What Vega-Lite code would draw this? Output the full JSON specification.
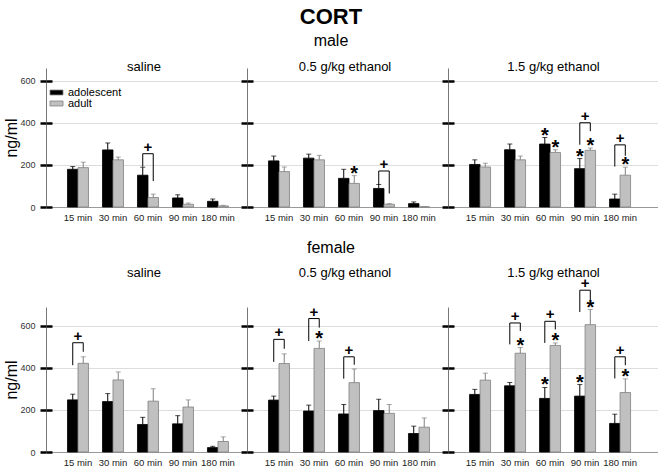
{
"$schema":"https://vega.github.io/schema/vega-lite/v6.json",
"padding":{"left":3,"top":6,"right":0,"bottom":0},
"title":{"text":"CORT","fontSize":22,"fontWeight":"bold","anchor":"middle","offset":4},
"datasets":{
"bars":[
{"sex":"male","trt":"saline","time":"15 min","age":"adolescent","mean":179,"hi":192,"sig":0},
{"sex":"male","trt":"saline","time":"15 min","age":"adult","mean":187,"hi":213,"sig":0},
{"sex":"male","trt":"saline","time":"30 min","age":"adolescent","mean":271,"hi":304,"sig":0},
{"sex":"male","trt":"saline","time":"30 min","age":"adult","mean":224,"hi":237,"sig":0},
{"sex":"male","trt":"saline","time":"60 min","age":"adolescent","mean":151,"hi":189,"sig":0},
{"sex":"male","trt":"saline","time":"60 min","age":"adult","mean":45,"hi":61,"sig":0},
{"sex":"male","trt":"saline","time":"90 min","age":"adolescent","mean":43,"hi":58,"sig":0},
{"sex":"male","trt":"saline","time":"90 min","age":"adult","mean":13,"hi":19,"sig":0},
{"sex":"male","trt":"saline","time":"180 min","age":"adolescent","mean":27,"hi":38,"sig":0},
{"sex":"male","trt":"saline","time":"180 min","age":"adult","mean":5,"hi":8,"sig":0},
{"sex":"male","trt":"0.5","time":"15 min","age":"adolescent","mean":219,"hi":242,"sig":0},
{"sex":"male","trt":"0.5","time":"15 min","age":"adult","mean":168,"hi":190,"sig":0},
{"sex":"male","trt":"0.5","time":"30 min","age":"adolescent","mean":232,"hi":251,"sig":0},
{"sex":"male","trt":"0.5","time":"30 min","age":"adult","mean":224,"hi":245,"sig":0},
{"sex":"male","trt":"0.5","time":"60 min","age":"adolescent","mean":136,"hi":179,"sig":0},
{"sex":"male","trt":"0.5","time":"60 min","age":"adult","mean":112,"hi":149,"sig":1},
{"sex":"male","trt":"0.5","time":"90 min","age":"adolescent","mean":88,"hi":107,"sig":0},
{"sex":"male","trt":"0.5","time":"90 min","age":"adult","mean":13,"hi":16,"sig":0},
{"sex":"male","trt":"0.5","time":"180 min","age":"adolescent","mean":16,"hi":24,"sig":0},
{"sex":"male","trt":"0.5","time":"180 min","age":"adult","mean":1,"hi":1,"sig":0},
{"sex":"male","trt":"1.5","time":"15 min","age":"adolescent","mean":202,"hi":224,"sig":0},
{"sex":"male","trt":"1.5","time":"15 min","age":"adult","mean":190,"hi":208,"sig":0},
{"sex":"male","trt":"1.5","time":"30 min","age":"adolescent","mean":272,"hi":299,"sig":0},
{"sex":"male","trt":"1.5","time":"30 min","age":"adult","mean":224,"hi":242,"sig":0},
{"sex":"male","trt":"1.5","time":"60 min","age":"adolescent","mean":299,"hi":330,"sig":1},
{"sex":"male","trt":"1.5","time":"60 min","age":"adult","mean":259,"hi":272,"sig":1},
{"sex":"male","trt":"1.5","time":"90 min","age":"adolescent","mean":182,"hi":230,"sig":1},
{"sex":"male","trt":"1.5","time":"90 min","age":"adult","mean":269,"hi":280,"sig":1},
{"sex":"male","trt":"1.5","time":"180 min","age":"adolescent","mean":38,"hi":61,"sig":0},
{"sex":"male","trt":"1.5","time":"180 min","age":"adult","mean":151,"hi":189,"sig":1},
{"sex":"female","trt":"saline","time":"15 min","age":"adolescent","mean":248,"hi":275,"sig":0},
{"sex":"female","trt":"saline","time":"15 min","age":"adult","mean":422,"hi":453,"sig":0},
{"sex":"female","trt":"saline","time":"30 min","age":"adolescent","mean":240,"hi":278,"sig":0},
{"sex":"female","trt":"saline","time":"30 min","age":"adult","mean":343,"hi":381,"sig":0},
{"sex":"female","trt":"saline","time":"60 min","age":"adolescent","mean":131,"hi":165,"sig":0},
{"sex":"female","trt":"saline","time":"60 min","age":"adult","mean":242,"hi":301,"sig":0},
{"sex":"female","trt":"saline","time":"90 min","age":"adolescent","mean":134,"hi":173,"sig":0},
{"sex":"female","trt":"saline","time":"90 min","age":"adult","mean":214,"hi":248,"sig":0},
{"sex":"female","trt":"saline","time":"180 min","age":"adolescent","mean":21,"hi":27,"sig":0},
{"sex":"female","trt":"saline","time":"180 min","age":"adult","mean":50,"hi":72,"sig":0},
{"sex":"female","trt":"0.5","time":"15 min","age":"adolescent","mean":247,"hi":266,"sig":0},
{"sex":"female","trt":"0.5","time":"15 min","age":"adult","mean":421,"hi":467,"sig":0},
{"sex":"female","trt":"0.5","time":"30 min","age":"adolescent","mean":195,"hi":223,"sig":0},
{"sex":"female","trt":"0.5","time":"30 min","age":"adult","mean":493,"hi":528,"sig":1},
{"sex":"female","trt":"0.5","time":"60 min","age":"adolescent","mean":181,"hi":226,"sig":0},
{"sex":"female","trt":"0.5","time":"60 min","age":"adult","mean":330,"hi":395,"sig":0},
{"sex":"female","trt":"0.5","time":"90 min","age":"adolescent","mean":197,"hi":251,"sig":0},
{"sex":"female","trt":"0.5","time":"90 min","age":"adult","mean":184,"hi":226,"sig":0},
{"sex":"female","trt":"0.5","time":"180 min","age":"adolescent","mean":88,"hi":123,"sig":0},
{"sex":"female","trt":"0.5","time":"180 min","age":"adult","mean":118,"hi":162,"sig":0},
{"sex":"female","trt":"1.5","time":"15 min","age":"adolescent","mean":274,"hi":298,"sig":0},
{"sex":"female","trt":"1.5","time":"15 min","age":"adult","mean":342,"hi":375,"sig":0},
{"sex":"female","trt":"1.5","time":"30 min","age":"adolescent","mean":315,"hi":331,"sig":0},
{"sex":"female","trt":"1.5","time":"30 min","age":"adult","mean":470,"hi":497,"sig":1},
{"sex":"female","trt":"1.5","time":"60 min","age":"adolescent","mean":255,"hi":307,"sig":1},
{"sex":"female","trt":"1.5","time":"60 min","age":"adult","mean":507,"hi":519,"sig":1},
{"sex":"female","trt":"1.5","time":"90 min","age":"adolescent","mean":266,"hi":321,"sig":1},
{"sex":"female","trt":"1.5","time":"90 min","age":"adult","mean":606,"hi":678,"sig":1},
{"sex":"female","trt":"1.5","time":"180 min","age":"adolescent","mean":136,"hi":180,"sig":0},
{"sex":"female","trt":"1.5","time":"180 min","age":"adult","mean":283,"hi":348,"sig":1}
],
"brackets":[
{"sex":"male","trt":"saline","time":"60 min","bid":"a","age":"adolescent","v":192,"ord":1},
{"sex":"male","trt":"saline","time":"60 min","bid":"a","age":"adolescent","v":253,"ord":2},
{"sex":"male","trt":"saline","time":"60 min","bid":"a","age":"adult","v":253,"ord":3},
{"sex":"male","trt":"saline","time":"60 min","bid":"a","age":"adult","v":123,"ord":4},
{"sex":"male","trt":"0.5","time":"90 min","bid":"b","age":"adolescent","v":105,"ord":1},
{"sex":"male","trt":"0.5","time":"90 min","bid":"b","age":"adolescent","v":171,"ord":2},
{"sex":"male","trt":"0.5","time":"90 min","bid":"b","age":"adult","v":171,"ord":3},
{"sex":"male","trt":"0.5","time":"90 min","bid":"b","age":"adult","v":64,"ord":4},
{"sex":"male","trt":"1.5","time":"90 min","bid":"c","age":"adolescent","v":296,"ord":1},
{"sex":"male","trt":"1.5","time":"90 min","bid":"c","age":"adolescent","v":400,"ord":2},
{"sex":"male","trt":"1.5","time":"90 min","bid":"c","age":"adult","v":400,"ord":3},
{"sex":"male","trt":"1.5","time":"90 min","bid":"c","age":"adult","v":360,"ord":4},
{"sex":"male","trt":"1.5","time":"180 min","bid":"d","age":"adolescent","v":192,"ord":1},
{"sex":"male","trt":"1.5","time":"180 min","bid":"d","age":"adolescent","v":295,"ord":2},
{"sex":"male","trt":"1.5","time":"180 min","bid":"d","age":"adult","v":295,"ord":3},
{"sex":"male","trt":"1.5","time":"180 min","bid":"d","age":"adult","v":243,"ord":4},
{"sex":"female","trt":"saline","time":"15 min","bid":"e","age":"adolescent","v":413,"ord":1},
{"sex":"female","trt":"saline","time":"15 min","bid":"e","age":"adolescent","v":520,"ord":2},
{"sex":"female","trt":"saline","time":"15 min","bid":"e","age":"adult","v":520,"ord":3},
{"sex":"female","trt":"saline","time":"15 min","bid":"e","age":"adult","v":477,"ord":4},
{"sex":"female","trt":"0.5","time":"15 min","bid":"f","age":"adolescent","v":429,"ord":1},
{"sex":"female","trt":"0.5","time":"15 min","bid":"f","age":"adolescent","v":536,"ord":2},
{"sex":"female","trt":"0.5","time":"15 min","bid":"f","age":"adult","v":536,"ord":3},
{"sex":"female","trt":"0.5","time":"15 min","bid":"f","age":"adult","v":491,"ord":4},
{"sex":"female","trt":"0.5","time":"30 min","bid":"g","age":"adolescent","v":528,"ord":1},
{"sex":"female","trt":"0.5","time":"30 min","bid":"g","age":"adolescent","v":635,"ord":2},
{"sex":"female","trt":"0.5","time":"30 min","bid":"g","age":"adult","v":635,"ord":3},
{"sex":"female","trt":"0.5","time":"30 min","bid":"g","age":"adult","v":592,"ord":4},
{"sex":"female","trt":"0.5","time":"60 min","bid":"h","age":"adolescent","v":349,"ord":1},
{"sex":"female","trt":"0.5","time":"60 min","bid":"h","age":"adolescent","v":453,"ord":2},
{"sex":"female","trt":"0.5","time":"60 min","bid":"h","age":"adult","v":453,"ord":3},
{"sex":"female","trt":"0.5","time":"60 min","bid":"h","age":"adult","v":415,"ord":4},
{"sex":"female","trt":"1.5","time":"30 min","bid":"i","age":"adolescent","v":512,"ord":1},
{"sex":"female","trt":"1.5","time":"30 min","bid":"i","age":"adolescent","v":614,"ord":2},
{"sex":"female","trt":"1.5","time":"30 min","bid":"i","age":"adult","v":614,"ord":3},
{"sex":"female","trt":"1.5","time":"30 min","bid":"i","age":"adult","v":576,"ord":4},
{"sex":"female","trt":"1.5","time":"60 min","bid":"j","age":"adolescent","v":519,"ord":1},
{"sex":"female","trt":"1.5","time":"60 min","bid":"j","age":"adolescent","v":622,"ord":2},
{"sex":"female","trt":"1.5","time":"60 min","bid":"j","age":"adult","v":622,"ord":3},
{"sex":"female","trt":"1.5","time":"60 min","bid":"j","age":"adult","v":583,"ord":4},
{"sex":"female","trt":"1.5","time":"90 min","bid":"k","age":"adolescent","v":666,"ord":1},
{"sex":"female","trt":"1.5","time":"90 min","bid":"k","age":"adolescent","v":770,"ord":2},
{"sex":"female","trt":"1.5","time":"90 min","bid":"k","age":"adult","v":770,"ord":3},
{"sex":"female","trt":"1.5","time":"90 min","bid":"k","age":"adult","v":714,"ord":4},
{"sex":"female","trt":"1.5","time":"180 min","bid":"l","age":"adolescent","v":350,"ord":1},
{"sex":"female","trt":"1.5","time":"180 min","bid":"l","age":"adolescent","v":453,"ord":2},
{"sex":"female","trt":"1.5","time":"180 min","bid":"l","age":"adult","v":453,"ord":3},
{"sex":"female","trt":"1.5","time":"180 min","bid":"l","age":"adult","v":413,"ord":4}
]
},
"spacing":18,
"vconcat":[
{"title":{"text":"male","fontSize":16,"anchor":"middle","offset":11},
 "spacing":-2,
 "resolve":{"legend":{"fill":"independent"},"scale":{"xOffset":"independent"}},
 "hconcat":[
  {"width":195,"height":139,
   "data":{"name":"bars"},
   "transform":[{"filter":"datum.sex==='male' && datum.trt==='saline'"}],
   "encoding":{"x":{"field":"time","type":"nominal","scale":{"domain":["15 min","30 min","60 min","90 min","180 min"],"paddingInner":0.4,"paddingOuter":0.486,"align":0.632},"axis":null}},
   "resolve":{"axis":{"y":"independent","x":"independent"}},
   "layer":[
    {"mark":{"type":"bar","strokeWidth":0.8},
     "encoding":{"x":{"field":"time","type":"nominal","scale":{"domain":["15 min","30 min","60 min","90 min","180 min"],"paddingInner":0.4,"paddingOuter":0.486,"align":0.632},"axis":{"title":null,"ticks":false,"labelFontSize":9.5,"labelColor":"#222","labelPadding":5,"domainColor":"#999","labelAngle":0,"grid":false}},
      "xOffset":{"field":"age","type":"nominal","scale":{"domain":["adolescent","adult"],"paddingInner":0,"paddingOuter":0}},
      "y":{"field":"mean","type":"quantitative","scale":{"domain":[0,660],"nice":false},"axis":{"values":[0,200,400,600],"title":"ng/ml","titleFontSize":16,"titleFontWeight":"normal","titleColor":"#000","titlePadding":0,"labelFontSize":9,"labelColor":"#333","labelPadding":5,"tickSize":6,"tickWidth":2.5,"tickColor":"#000","domainColor":"#777","grid":true,"gridColor":"#dddddd"}},
      "fill":{"field":"age","type":"nominal","scale":{"domain":["adolescent","adult"],"range":["#000000","#c0c0c0"]},"legend":{"title":null,"orient":"none","legendX":5,"legendY":19,"labelFontSize":11,"labelColor":"#000","symbolType":"M-1.45,-0.55H1.45V0.55H-1.45Z","symbolSize":81,"rowPadding":-2,"labelOffset":6,"symbolStrokeColor":"#808080","symbolStrokeWidth":0.8}},
      "stroke":{"field":"age","type":"nominal","scale":{"domain":["adolescent","adult"],"range":["#000000","#808080"]},"legend":null}}},
    {"mark":{"type":"rule","strokeWidth":1},
     "encoding":{"xOffset":{"field":"age","type":"nominal"},"y":{"field":"mean","type":"quantitative","axis":{"orient":"left","offset":-6,"values":[0,200,400,600],"domain":false,"labels":false,"grid":false,"title":null,"tickSize":6,"tickWidth":2.5,"tickColor":"#000"}},"y2":{"field":"hi"},"stroke":{"field":"age","type":"nominal","legend":null}}},
    {"mark":{"type":"tick","thickness":1,"size":5},
     "encoding":{"xOffset":{"field":"age","type":"nominal"},"y":{"field":"hi","type":"quantitative","axis":null},"color":{"field":"age","type":"nominal","scale":{"domain":["adolescent","adult"],"range":["#000000","#808080"]},"legend":null}}},
    {"transform":[{"filter":"datum.sig==1"}],"mark":{"type":"text","text":"*","fontSize":20,"fontWeight":"bold","baseline":"alphabetic","dy":4,"color":"#000"},
     "encoding":{"xOffset":{"field":"age","type":"nominal"},"y":{"field":"hi","type":"quantitative","axis":null}}},
    {"data":{"name":"brackets"},"transform":[{"filter":"datum.sex==='male' && datum.trt==='saline'"}],"mark":{"type":"line","color":"#000","strokeWidth":1},
     "encoding":{"xOffset":{"field":"age","type":"nominal"},"y":{"field":"v","type":"quantitative","axis":null},"detail":{"field":"bid"},"order":{"field":"ord","type":"quantitative"}}},
    {"data":{"name":"brackets"},"transform":[{"filter":"datum.sex==='male' && datum.trt==='saline' && datum.ord==2"}],"mark":{"type":"text","text":"+","fontSize":15,"fontWeight":"bold","baseline":"alphabetic","dy":-2,"color":"#000"},
     "encoding":{"x":{"field":"time","type":"nominal","scale":{"domain":["15 min","30 min","60 min","90 min","180 min"],"paddingInner":0.4,"paddingOuter":0.486,"align":0.632},"axis":{"orient":"top","title":"saline","titleFontSize":13,"titleFontWeight":"normal","titleColor":"#000","titlePadding":-5,"domain":false,"ticks":false,"labels":false,"grid":false}},
      "y":{"field":"v","type":"quantitative","axis":null}}}
   ]},
  {"width":195,"height":139,
   "data":{"name":"bars"},
   "transform":[{"filter":"datum.sex==='male' && datum.trt==='0.5'"}],
   "encoding":{"x":{"field":"time","type":"nominal","scale":{"domain":["15 min","30 min","60 min","90 min","180 min"],"paddingInner":0.4,"paddingOuter":0.486,"align":0.632},"axis":null}},
   "resolve":{"axis":{"y":"independent","x":"independent"}},
   "layer":[
    {"mark":{"type":"bar","strokeWidth":0.8},
     "encoding":{"x":{"field":"time","type":"nominal","scale":{"domain":["15 min","30 min","60 min","90 min","180 min"],"paddingInner":0.4,"paddingOuter":0.486,"align":0.632},"axis":{"title":null,"ticks":false,"labelFontSize":9.5,"labelColor":"#222","labelPadding":5,"domainColor":"#999","labelAngle":0,"grid":false}},
      "xOffset":{"field":"age","type":"nominal","scale":{"domain":["adolescent","adult"],"paddingInner":0,"paddingOuter":0}},
      "y":{"field":"mean","type":"quantitative","scale":{"domain":[0,660],"nice":false},"axis":{"values":[0,200,400,600],"title":null,"labels":false,"tickSize":6,"tickWidth":2.5,"tickColor":"#000","domainColor":"#777","grid":true,"gridColor":"#dddddd"}},
      "fill":{"field":"age","type":"nominal","scale":{"domain":["adolescent","adult"],"range":["#000000","#c0c0c0"]},"legend":null},
      "stroke":{"field":"age","type":"nominal","scale":{"domain":["adolescent","adult"],"range":["#000000","#808080"]},"legend":null}}},
    {"mark":{"type":"rule","strokeWidth":1},
     "encoding":{"xOffset":{"field":"age","type":"nominal"},"y":{"field":"mean","type":"quantitative","axis":{"orient":"left","offset":-6,"values":[0,200,400,600],"domain":false,"labels":false,"grid":false,"title":null,"tickSize":6,"tickWidth":2.5,"tickColor":"#000"}},"y2":{"field":"hi"},"stroke":{"field":"age","type":"nominal","legend":null}}},
    {"mark":{"type":"tick","thickness":1,"size":5},
     "encoding":{"xOffset":{"field":"age","type":"nominal"},"y":{"field":"hi","type":"quantitative","axis":null},"color":{"field":"age","type":"nominal","scale":{"domain":["adolescent","adult"],"range":["#000000","#808080"]},"legend":null}}},
    {"transform":[{"filter":"datum.sig==1"}],"mark":{"type":"text","text":"*","fontSize":20,"fontWeight":"bold","baseline":"alphabetic","dy":4,"color":"#000"},
     "encoding":{"xOffset":{"field":"age","type":"nominal"},"y":{"field":"hi","type":"quantitative","axis":null}}},
    {"data":{"name":"brackets"},"transform":[{"filter":"datum.sex==='male' && datum.trt==='0.5'"}],"mark":{"type":"line","color":"#000","strokeWidth":1},
     "encoding":{"xOffset":{"field":"age","type":"nominal"},"y":{"field":"v","type":"quantitative","axis":null},"detail":{"field":"bid"},"order":{"field":"ord","type":"quantitative"}}},
    {"data":{"name":"brackets"},"transform":[{"filter":"datum.sex==='male' && datum.trt==='0.5' && datum.ord==2"}],"mark":{"type":"text","text":"+","fontSize":15,"fontWeight":"bold","baseline":"alphabetic","dy":-2,"color":"#000"},
     "encoding":{"x":{"field":"time","type":"nominal","scale":{"domain":["15 min","30 min","60 min","90 min","180 min"],"paddingInner":0.4,"paddingOuter":0.486,"align":0.632},"axis":{"orient":"top","title":"0.5 g/kg ethanol","titleFontSize":13,"titleFontWeight":"normal","titleColor":"#000","titlePadding":-5,"domain":false,"ticks":false,"labels":false,"grid":false}},
      "y":{"field":"v","type":"quantitative","axis":null}}}
   ]},
  {"width":210,"height":139,
   "data":{"name":"bars"},
   "transform":[{"filter":"datum.sex==='male' && datum.trt==='1.5'"}],
   "encoding":{"x":{"field":"time","type":"nominal","scale":{"domain":["15 min","30 min","60 min","90 min","180 min"],"paddingInner":0.4,"paddingOuter":0.7,"align":0.44},"axis":null}},
   "resolve":{"axis":{"y":"independent","x":"independent"}},
   "layer":[
    {"mark":{"type":"bar","strokeWidth":0.8},
     "encoding":{"x":{"field":"time","type":"nominal","scale":{"domain":["15 min","30 min","60 min","90 min","180 min"],"paddingInner":0.4,"paddingOuter":0.7,"align":0.44},"axis":{"title":null,"ticks":false,"labelFontSize":9.5,"labelColor":"#222","labelPadding":5,"domainColor":"#999","labelAngle":0,"grid":false}},
      "xOffset":{"field":"age","type":"nominal","scale":{"domain":["adolescent","adult"],"paddingInner":0,"paddingOuter":0}},
      "y":{"field":"mean","type":"quantitative","scale":{"domain":[0,660],"nice":false},"axis":{"values":[0,200,400,600],"title":null,"labels":false,"tickSize":6,"tickWidth":2.5,"tickColor":"#000","domainColor":"#777","grid":true,"gridColor":"#dddddd"}},
      "fill":{"field":"age","type":"nominal","scale":{"domain":["adolescent","adult"],"range":["#000000","#c0c0c0"]},"legend":null},
      "stroke":{"field":"age","type":"nominal","scale":{"domain":["adolescent","adult"],"range":["#000000","#808080"]},"legend":null}}},
    {"mark":{"type":"rule","strokeWidth":1},
     "encoding":{"xOffset":{"field":"age","type":"nominal"},"y":{"field":"mean","type":"quantitative","axis":{"orient":"left","offset":-6,"values":[0,200,400,600],"domain":false,"labels":false,"grid":false,"title":null,"tickSize":6,"tickWidth":2.5,"tickColor":"#000"}},"y2":{"field":"hi"},"stroke":{"field":"age","type":"nominal","legend":null}}},
    {"mark":{"type":"tick","thickness":1,"size":5},
     "encoding":{"xOffset":{"field":"age","type":"nominal"},"y":{"field":"hi","type":"quantitative","axis":null},"color":{"field":"age","type":"nominal","scale":{"domain":["adolescent","adult"],"range":["#000000","#808080"]},"legend":null}}},
    {"transform":[{"filter":"datum.sig==1"}],"mark":{"type":"text","text":"*","fontSize":20,"fontWeight":"bold","baseline":"alphabetic","dy":4,"color":"#000"},
     "encoding":{"xOffset":{"field":"age","type":"nominal"},"y":{"field":"hi","type":"quantitative","axis":null}}},
    {"data":{"name":"brackets"},"transform":[{"filter":"datum.sex==='male' && datum.trt==='1.5'"}],"mark":{"type":"line","color":"#000","strokeWidth":1},
     "encoding":{"xOffset":{"field":"age","type":"nominal"},"y":{"field":"v","type":"quantitative","axis":null},"detail":{"field":"bid"},"order":{"field":"ord","type":"quantitative"}}},
    {"data":{"name":"brackets"},"transform":[{"filter":"datum.sex==='male' && datum.trt==='1.5' && datum.ord==2"}],"mark":{"type":"text","text":"+","fontSize":15,"fontWeight":"bold","baseline":"alphabetic","dy":-2,"color":"#000"},
     "encoding":{"x":{"field":"time","type":"nominal","scale":{"domain":["15 min","30 min","60 min","90 min","180 min"],"paddingInner":0.4,"paddingOuter":0.7,"align":0.44},"axis":{"orient":"top","title":"1.5 g/kg ethanol","titleFontSize":13,"titleFontWeight":"normal","titleColor":"#000","titlePadding":-5,"domain":false,"ticks":false,"labels":false,"grid":false}},
      "y":{"field":"v","type":"quantitative","axis":null}}}
   ]}
 ]},
{"title":{"text":"female","fontSize":16,"anchor":"middle","offset":10},
 "spacing":-2,
 "resolve":{"legend":{"fill":"independent"},"scale":{"xOffset":"independent"}},
 "hconcat":[
  {"width":195,"height":145,
   "data":{"name":"bars"},
   "transform":[{"filter":"datum.sex==='female' && datum.trt==='saline'"}],
   "encoding":{"x":{"field":"time","type":"nominal","scale":{"domain":["15 min","30 min","60 min","90 min","180 min"],"paddingInner":0.4,"paddingOuter":0.486,"align":0.632},"axis":null}},
   "resolve":{"axis":{"y":"independent","x":"independent"}},
   "layer":[
    {"mark":{"type":"bar","strokeWidth":0.8},
     "encoding":{"x":{"field":"time","type":"nominal","scale":{"domain":["15 min","30 min","60 min","90 min","180 min"],"paddingInner":0.4,"paddingOuter":0.486,"align":0.632},"axis":{"title":null,"ticks":false,"labelFontSize":9.5,"labelColor":"#222","labelPadding":5,"domainColor":"#999","labelAngle":0,"grid":false}},
      "xOffset":{"field":"age","type":"nominal","scale":{"domain":["adolescent","adult"],"paddingInner":0,"paddingOuter":0}},
      "y":{"field":"mean","type":"quantitative","scale":{"domain":[0,690],"nice":false},"axis":{"values":[0,200,400,600],"title":"ng/ml","titleFontSize":16,"titleFontWeight":"normal","titleColor":"#000","titlePadding":0,"labelFontSize":9,"labelColor":"#333","labelPadding":5,"tickSize":6,"tickWidth":2.5,"tickColor":"#000","domainColor":"#777","grid":true,"gridColor":"#dddddd"}},
      "fill":{"field":"age","type":"nominal","scale":{"domain":["adolescent","adult"],"range":["#000000","#c0c0c0"]},"legend":null},
      "stroke":{"field":"age","type":"nominal","scale":{"domain":["adolescent","adult"],"range":["#000000","#808080"]},"legend":null}}},
    {"mark":{"type":"rule","strokeWidth":1},
     "encoding":{"xOffset":{"field":"age","type":"nominal"},"y":{"field":"mean","type":"quantitative","axis":{"orient":"left","offset":-6,"values":[0,200,400,600],"domain":false,"labels":false,"grid":false,"title":null,"tickSize":6,"tickWidth":2.5,"tickColor":"#000"}},"y2":{"field":"hi"},"stroke":{"field":"age","type":"nominal","legend":null}}},
    {"mark":{"type":"tick","thickness":1,"size":5},
     "encoding":{"xOffset":{"field":"age","type":"nominal"},"y":{"field":"hi","type":"quantitative","axis":null},"color":{"field":"age","type":"nominal","scale":{"domain":["adolescent","adult"],"range":["#000000","#808080"]},"legend":null}}},
    {"transform":[{"filter":"datum.sig==1"}],"mark":{"type":"text","text":"*","fontSize":20,"fontWeight":"bold","baseline":"alphabetic","dy":4,"color":"#000"},
     "encoding":{"xOffset":{"field":"age","type":"nominal"},"y":{"field":"hi","type":"quantitative","axis":null}}},
    {"data":{"name":"brackets"},"transform":[{"filter":"datum.sex==='female' && datum.trt==='saline'"}],"mark":{"type":"line","color":"#000","strokeWidth":1},
     "encoding":{"xOffset":{"field":"age","type":"nominal"},"y":{"field":"v","type":"quantitative","axis":null},"detail":{"field":"bid"},"order":{"field":"ord","type":"quantitative"}}},
    {"data":{"name":"brackets"},"transform":[{"filter":"datum.sex==='female' && datum.trt==='saline' && datum.ord==2"}],"mark":{"type":"text","text":"+","fontSize":15,"fontWeight":"bold","baseline":"alphabetic","dy":-2,"color":"#000"},
     "encoding":{"x":{"field":"time","type":"nominal","scale":{"domain":["15 min","30 min","60 min","90 min","180 min"],"paddingInner":0.4,"paddingOuter":0.486,"align":0.632},"axis":{"orient":"top","title":"saline","titleFontSize":13,"titleFontWeight":"normal","titleColor":"#000","titlePadding":28,"domain":false,"ticks":false,"labels":false,"grid":false}},
      "y":{"field":"v","type":"quantitative","axis":null}}}
   ]},
  {"width":195,"height":145,
   "data":{"name":"bars"},
   "transform":[{"filter":"datum.sex==='female' && datum.trt==='0.5'"}],
   "encoding":{"x":{"field":"time","type":"nominal","scale":{"domain":["15 min","30 min","60 min","90 min","180 min"],"paddingInner":0.4,"paddingOuter":0.486,"align":0.632},"axis":null}},
   "resolve":{"axis":{"y":"independent","x":"independent"}},
   "layer":[
    {"mark":{"type":"bar","strokeWidth":0.8},
     "encoding":{"x":{"field":"time","type":"nominal","scale":{"domain":["15 min","30 min","60 min","90 min","180 min"],"paddingInner":0.4,"paddingOuter":0.486,"align":0.632},"axis":{"title":null,"ticks":false,"labelFontSize":9.5,"labelColor":"#222","labelPadding":5,"domainColor":"#999","labelAngle":0,"grid":false}},
      "xOffset":{"field":"age","type":"nominal","scale":{"domain":["adolescent","adult"],"paddingInner":0,"paddingOuter":0}},
      "y":{"field":"mean","type":"quantitative","scale":{"domain":[0,690],"nice":false},"axis":{"values":[0,200,400,600],"title":null,"labels":false,"tickSize":6,"tickWidth":2.5,"tickColor":"#000","domainColor":"#777","grid":true,"gridColor":"#dddddd"}},
      "fill":{"field":"age","type":"nominal","scale":{"domain":["adolescent","adult"],"range":["#000000","#c0c0c0"]},"legend":null},
      "stroke":{"field":"age","type":"nominal","scale":{"domain":["adolescent","adult"],"range":["#000000","#808080"]},"legend":null}}},
    {"mark":{"type":"rule","strokeWidth":1},
     "encoding":{"xOffset":{"field":"age","type":"nominal"},"y":{"field":"mean","type":"quantitative","axis":{"orient":"left","offset":-6,"values":[0,200,400,600],"domain":false,"labels":false,"grid":false,"title":null,"tickSize":6,"tickWidth":2.5,"tickColor":"#000"}},"y2":{"field":"hi"},"stroke":{"field":"age","type":"nominal","legend":null}}},
    {"mark":{"type":"tick","thickness":1,"size":5},
     "encoding":{"xOffset":{"field":"age","type":"nominal"},"y":{"field":"hi","type":"quantitative","axis":null},"color":{"field":"age","type":"nominal","scale":{"domain":["adolescent","adult"],"range":["#000000","#808080"]},"legend":null}}},
    {"transform":[{"filter":"datum.sig==1"}],"mark":{"type":"text","text":"*","fontSize":20,"fontWeight":"bold","baseline":"alphabetic","dy":4,"color":"#000"},
     "encoding":{"xOffset":{"field":"age","type":"nominal"},"y":{"field":"hi","type":"quantitative","axis":null}}},
    {"data":{"name":"brackets"},"transform":[{"filter":"datum.sex==='female' && datum.trt==='0.5'"}],"mark":{"type":"line","color":"#000","strokeWidth":1},
     "encoding":{"xOffset":{"field":"age","type":"nominal"},"y":{"field":"v","type":"quantitative","axis":null},"detail":{"field":"bid"},"order":{"field":"ord","type":"quantitative"}}},
    {"data":{"name":"brackets"},"transform":[{"filter":"datum.sex==='female' && datum.trt==='0.5' && datum.ord==2"}],"mark":{"type":"text","text":"+","fontSize":15,"fontWeight":"bold","baseline":"alphabetic","dy":-2,"color":"#000"},
     "encoding":{"x":{"field":"time","type":"nominal","scale":{"domain":["15 min","30 min","60 min","90 min","180 min"],"paddingInner":0.4,"paddingOuter":0.486,"align":0.632},"axis":{"orient":"top","title":"0.5 g/kg ethanol","titleFontSize":13,"titleFontWeight":"normal","titleColor":"#000","titlePadding":28,"domain":false,"ticks":false,"labels":false,"grid":false}},
      "y":{"field":"v","type":"quantitative","axis":null}}}
   ]},
  {"width":210,"height":145,
   "data":{"name":"bars"},
   "transform":[{"filter":"datum.sex==='female' && datum.trt==='1.5'"}],
   "encoding":{"x":{"field":"time","type":"nominal","scale":{"domain":["15 min","30 min","60 min","90 min","180 min"],"paddingInner":0.4,"paddingOuter":0.7,"align":0.44},"axis":null}},
   "resolve":{"axis":{"y":"independent","x":"independent"}},
   "layer":[
    {"mark":{"type":"bar","strokeWidth":0.8},
     "encoding":{"x":{"field":"time","type":"nominal","scale":{"domain":["15 min","30 min","60 min","90 min","180 min"],"paddingInner":0.4,"paddingOuter":0.7,"align":0.44},"axis":{"title":null,"ticks":false,"labelFontSize":9.5,"labelColor":"#222","labelPadding":5,"domainColor":"#999","labelAngle":0,"grid":false}},
      "xOffset":{"field":"age","type":"nominal","scale":{"domain":["adolescent","adult"],"paddingInner":0,"paddingOuter":0}},
      "y":{"field":"mean","type":"quantitative","scale":{"domain":[0,690],"nice":false},"axis":{"values":[0,200,400,600],"title":null,"labels":false,"tickSize":6,"tickWidth":2.5,"tickColor":"#000","domainColor":"#777","grid":true,"gridColor":"#dddddd"}},
      "fill":{"field":"age","type":"nominal","scale":{"domain":["adolescent","adult"],"range":["#000000","#c0c0c0"]},"legend":null},
      "stroke":{"field":"age","type":"nominal","scale":{"domain":["adolescent","adult"],"range":["#000000","#808080"]},"legend":null}}},
    {"mark":{"type":"rule","strokeWidth":1},
     "encoding":{"xOffset":{"field":"age","type":"nominal"},"y":{"field":"mean","type":"quantitative","axis":{"orient":"left","offset":-6,"values":[0,200,400,600],"domain":false,"labels":false,"grid":false,"title":null,"tickSize":6,"tickWidth":2.5,"tickColor":"#000"}},"y2":{"field":"hi"},"stroke":{"field":"age","type":"nominal","legend":null}}},
    {"mark":{"type":"tick","thickness":1,"size":5},
     "encoding":{"xOffset":{"field":"age","type":"nominal"},"y":{"field":"hi","type":"quantitative","axis":null},"color":{"field":"age","type":"nominal","scale":{"domain":["adolescent","adult"],"range":["#000000","#808080"]},"legend":null}}},
    {"transform":[{"filter":"datum.sig==1"}],"mark":{"type":"text","text":"*","fontSize":20,"fontWeight":"bold","baseline":"alphabetic","dy":4,"color":"#000"},
     "encoding":{"xOffset":{"field":"age","type":"nominal"},"y":{"field":"hi","type":"quantitative","axis":null}}},
    {"data":{"name":"brackets"},"transform":[{"filter":"datum.sex==='female' && datum.trt==='1.5'"}],"mark":{"type":"line","color":"#000","strokeWidth":1},
     "encoding":{"xOffset":{"field":"age","type":"nominal"},"y":{"field":"v","type":"quantitative","axis":null},"detail":{"field":"bid"},"order":{"field":"ord","type":"quantitative"}}},
    {"data":{"name":"brackets"},"transform":[{"filter":"datum.sex==='female' && datum.trt==='1.5' && datum.ord==2"}],"mark":{"type":"text","text":"+","fontSize":15,"fontWeight":"bold","baseline":"alphabetic","dy":-2,"color":"#000"},
     "encoding":{"x":{"field":"time","type":"nominal","scale":{"domain":["15 min","30 min","60 min","90 min","180 min"],"paddingInner":0.4,"paddingOuter":0.7,"align":0.44},"axis":{"orient":"top","title":"1.5 g/kg ethanol","titleFontSize":13,"titleFontWeight":"normal","titleColor":"#000","titlePadding":28,"domain":false,"ticks":false,"labels":false,"grid":false}},
      "y":{"field":"v","type":"quantitative","axis":null}}}
   ]}
 ]}
],
"config":{
 "font":"Liberation Sans",
 "view":{"stroke":null},
 "title":{"fontWeight":"normal","fontSize":13,"color":"#000","font":"Liberation Sans"},
 "axis":{"labelFont":"Liberation Sans","titleFont":"Liberation Sans"},
 "legend":{"labelFont":"Liberation Sans"}
}
}
